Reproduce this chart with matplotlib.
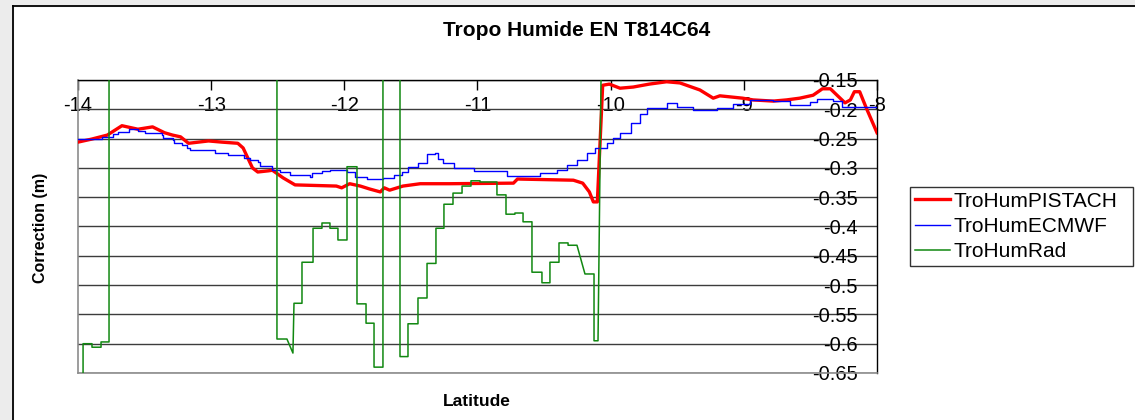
import matplotlib
matplotlib.use('Agg')
import matplotlib.pyplot as plt
from matplotlib.lines import Line2D
from matplotlib.patches import Rectangle

plt.rcParams['font.family'] = ['Liberation Sans', 'DejaVu Sans']

# ---------------- data ----------------
title = "Tropo Humide EN T814C64"
x_label = "Latitude"
y_label = "Correction (m)"
series_names = ["TroHumPISTACH", "TroHumECMWF", "TroHumRad"]

x_ticks = [-14, -13, -12, -11, -10, -9, -8]
x_tick_labels = ["-14", "-13", "-12", "-11", "-10", "-9", "-8"]
y_ticks = [-0.15, -0.2, -0.25, -0.3, -0.35, -0.4, -0.45, -0.5, -0.55, -0.6, -0.65]
y_tick_labels = ["-0.15", "-0.2", "-0.25", "-0.3", "-0.35", "-0.4", "-0.45",
                 "-0.5", "-0.55", "-0.6", "-0.65"]

pistach_lat = [-14.00, -13.90, -13.78, -13.67, -13.55, -13.44, -13.35, -13.29, -13.23,
               -13.17, -13.02, -12.92, -12.80, -12.76, -12.69, -12.65, -12.57, -12.54,
               -12.46, -12.37, -12.06, -12.02, -11.96, -11.88, -11.81, -11.73, -11.70,
               -11.66, -11.56, -11.43, -11.21, -10.73, -10.70, -10.28, -10.21, -10.16,
               -10.13, -10.10, -10.06, -10.01, -9.93, -9.83, -9.71, -9.58, -9.48, -9.33,
               -9.23, -9.18, -9.01, -8.93, -8.78, -8.68, -8.58, -8.48, -8.41, -8.35,
               -8.30, -8.24, -8.20, -8.17, -8.13, -8.08, -8.00]
pistach_val = [-0.256, -0.251, -0.244, -0.228, -0.234, -0.230, -0.240, -0.244, -0.247,
               -0.258, -0.254, -0.256, -0.258, -0.266, -0.300, -0.307, -0.305, -0.304,
               -0.317, -0.329, -0.331, -0.334, -0.327, -0.331, -0.336, -0.341, -0.334,
               -0.338, -0.331, -0.327, -0.327, -0.326, -0.319, -0.321, -0.326, -0.341,
               -0.358, -0.358, -0.159, -0.157, -0.164, -0.162, -0.157, -0.153, -0.155,
               -0.167, -0.181, -0.177, -0.181, -0.184, -0.186, -0.184, -0.181, -0.176,
               -0.165, -0.165, -0.176, -0.189, -0.184, -0.170, -0.170, -0.198, -0.240]

ecmwf_lat = [-14.00, -13.87, -13.82, -13.74, -13.70, -13.62, -13.55, -13.50, -13.37,
             -13.36, -13.29, -13.28, -13.22, -13.18, -13.16, -12.97, -12.87, -12.75,
             -12.71, -12.65, -12.63, -12.57, -12.54, -12.48, -12.41, -12.26, -12.24,
             -12.17, -12.11, -11.98, -11.92, -11.83, -11.71, -11.63, -11.57, -11.52,
             -11.45, -11.38, -11.32, -11.30, -11.26, -11.18, -11.03, -10.78, -10.53,
             -10.40, -10.33, -10.25, -10.18, -10.12, -10.03, -9.98, -9.93, -9.85,
             -9.78, -9.73, -9.58, -9.50, -9.38, -9.20, -9.08, -8.95, -8.78, -8.65,
             -8.50, -8.45, -8.33, -8.26, -8.00]
ecmwf_val = [-0.251, -0.251, -0.247, -0.242, -0.239, -0.234, -0.237, -0.240, -0.244,
             -0.249, -0.252, -0.258, -0.261, -0.266, -0.269, -0.275, -0.278, -0.283,
             -0.287, -0.290, -0.297, -0.297, -0.304, -0.307, -0.312, -0.316, -0.309,
             -0.305, -0.304, -0.307, -0.316, -0.319, -0.317, -0.312, -0.307, -0.298,
             -0.292, -0.276, -0.275, -0.285, -0.292, -0.300, -0.305, -0.314, -0.309,
             -0.304, -0.295, -0.287, -0.275, -0.266, -0.258, -0.249, -0.240, -0.223,
             -0.208, -0.198, -0.189, -0.196, -0.201, -0.198, -0.191, -0.184, -0.186,
             -0.193, -0.188, -0.182, -0.186, -0.196, -0.196]

# off-scale radiometer values (above the top of the axis) are given as -0.10
rad_lat = [-13.962, -13.962, -13.895, -13.895, -13.827, -13.827, -13.767, -13.767,
           -12.506, -12.506, -12.431, -12.386, -12.378, -12.318, -12.318, -12.235,
           -12.235, -12.168, -12.168, -12.108, -12.108, -12.048, -12.048, -11.980,
           -11.980, -11.905, -11.905, -11.837, -11.837, -11.777, -11.777, -11.710,
           -11.710, -11.582, -11.582, -11.522, -11.522, -11.447, -11.447, -11.379,
           -11.379, -11.312, -11.312, -11.252, -11.252, -11.184, -11.184, -11.116,
           -11.116, -11.049, -11.049, -10.981, -10.981, -10.854, -10.854, -10.786,
           -10.786, -10.719, -10.719, -10.658, -10.658, -10.591, -10.591, -10.516,
           -10.516, -10.456, -10.456, -10.388, -10.388, -10.320, -10.320, -10.253,
           -10.193, -10.125, -10.125, -10.095, -10.070, -8.000]
rad_val = [-0.700, -0.600, -0.600, -0.606, -0.606, -0.597, -0.597, -0.100,
           -0.100, -0.592, -0.592, -0.616, -0.531, -0.531, -0.461, -0.461,
           -0.403, -0.403, -0.394, -0.394, -0.403, -0.403, -0.423, -0.423,
           -0.298, -0.298, -0.532, -0.532, -0.565, -0.565, -0.640, -0.640,
           -0.100, -0.100, -0.622, -0.622, -0.566, -0.566, -0.522, -0.522,
           -0.463, -0.463, -0.403, -0.403, -0.362, -0.362, -0.343, -0.343,
           -0.331, -0.331, -0.322, -0.322, -0.324, -0.324, -0.346, -0.346,
           -0.379, -0.379, -0.377, -0.377, -0.392, -0.392, -0.478, -0.478,
           -0.496, -0.496, -0.461, -0.461, -0.428, -0.428, -0.432, -0.432,
           -0.481, -0.481, -0.595, -0.595, -0.100, -0.100]

# ---------------- figure ----------------
W, H = 1135, 420
fig = plt.figure(figsize=(W / 100, H / 100), dpi=100)
fig.patch.set_facecolor('white')

# light background strip outside the chart frame
fig.add_artist(Rectangle((0, 0), 13 / W, 1, transform=fig.transFigure,
                         color='#ececec', zorder=0))
fig.add_artist(Rectangle((0, 1 - 6 / H), 1, 6 / H, transform=fig.transFigure,
                         color='#ececec', zorder=0))
fig.add_artist(Line2D([13 / W, 13 / W], [0, 1 - 6 / H], transform=fig.transFigure,
                      color='black', lw=1.3))
fig.add_artist(Line2D([13 / W, 1], [1 - 6 / H, 1 - 6 / H], transform=fig.transFigure,
                      color='black', lw=1.3))

ax = fig.add_axes([78 / W, 1 - 373 / H, (877 - 78) / W, (373 - 80) / H])

l1, = ax.plot(pistach_lat, pistach_val, color='#ff0000', lw=2.4, zorder=3,
              solid_joinstyle='round')
l2, = ax.plot(ecmwf_lat, ecmwf_val, color='#0000ff', lw=1.0, zorder=4,
              drawstyle='steps-post')
l3, = ax.plot(rad_lat, rad_val, color='#118811', lw=1.1, zorder=5)

ax.set_xlim(-14, -8)
ax.set_ylim(-0.65, -0.15)

ax.set_axisbelow(True)
ax.grid(axis='y', color='#3c3c3c', lw=1.0)
ax.grid(axis='x', visible=False)

for side in ('left', 'bottom'):
    ax.spines[side].set_color('#8c8c8c')
    ax.spines[side].set_linewidth(1.2)
for side in ('top', 'right'):
    ax.spines[side].set_color('black')
    ax.spines[side].set_linewidth(1.0)

ax.xaxis.tick_top()
ax.set_xticks(x_ticks, x_tick_labels)
ax.tick_params(axis='x', direction='in', length=7, width=1, color='black',
               pad=-25.5, labelsize=14.5)

ax.yaxis.tick_right()
ax.set_yticks(y_ticks, y_tick_labels)
ax.tick_params(axis='y', length=0, pad=-14, labelsize=14.5)
for lab in ax.get_yticklabels():
    lab.set_horizontalalignment('right')

fig.text(577 / W, 1 - 30 / H, title, ha='center', va='center',
         fontsize=15, fontweight='bold')
fig.text(477 / W, 1 - 401 / H, x_label, ha='center', va='center',
         fontsize=12.5, fontweight='bold')
fig.text(41 / W, 1 - 228 / H, y_label, ha='center', va='center',
         rotation=90, fontsize=11.5, fontweight='bold')

leg = fig.legend([l1, l2, l3], series_names, loc='center left',
                 bbox_to_anchor=(910 / W, 1 - 226.5 / H, 223 / W, 0),
                 bbox_transform=fig.transFigure, mode='expand', borderaxespad=0,
                 fancybox=False, frameon=True, edgecolor='black', fontsize=15,
                 handlelength=1.65, handletextpad=0.2, labelspacing=0.3,
                 borderpad=0.25)
leg.get_frame().set_linewidth(1.0)
leg.get_lines()[0].set_linewidth(2.4)

fig.savefig('out.png', dpi=100)
